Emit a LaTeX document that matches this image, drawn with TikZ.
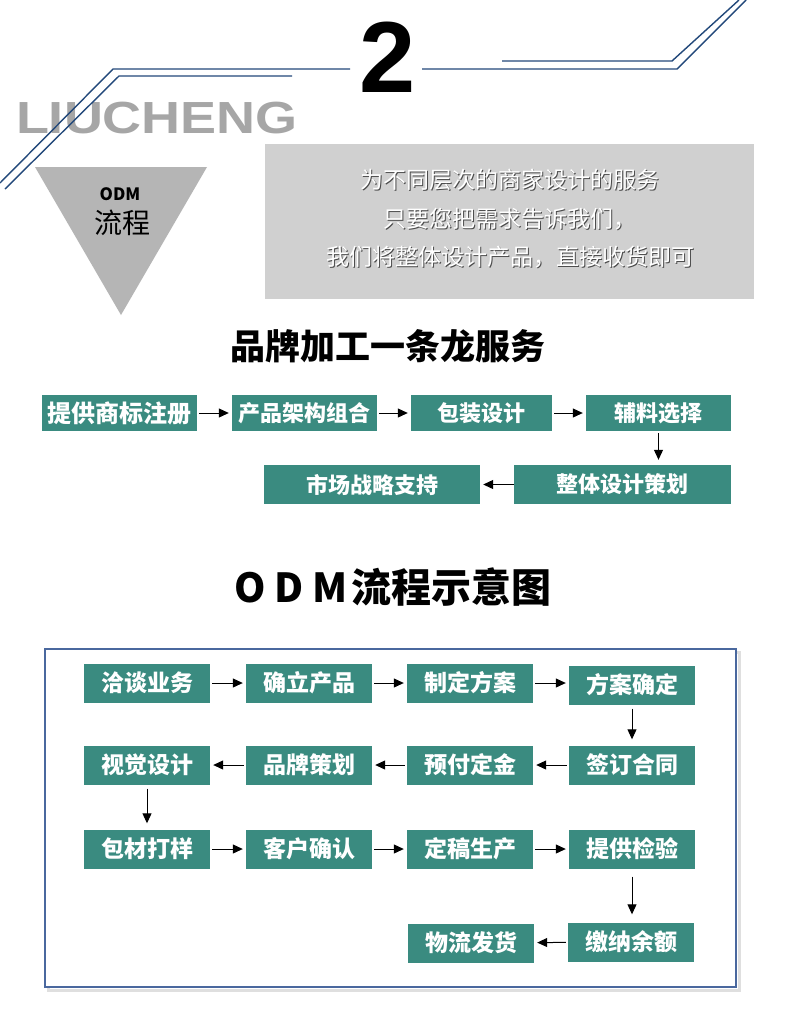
\documentclass[tikz,border=0pt]{standalone}
\usepackage{graphicx}
\usepackage{fontspec}
\setmainfont{Noto Sans CJK SC}
\newfontfamily\latinfont{Liberation Sans}
\usetikzlibrary{arrows.meta}

\definecolor{boxteal}{RGB}{58,139,128}
\definecolor{lineblue}{RGB}{34,72,122}
\definecolor{frameblue}{RGB}{74,104,158}
\definecolor{panelgray}{RGB}{208,208,208}
\definecolor{trigray}{RGB}{181,181,181}
\definecolor{wordgray}{RGB}{166,166,166}

\tikzset{
  stepbox/.style={fill=boxteal, text=white, inner sep=0pt,
    font=\bfseries\fontsize{22}{26}\selectfont,
    minimum height=36, minimum width=145},
  flowbox/.style={stepbox, font=\bfseries\fontsize{23}{27}\selectfont,
    minimum height=39, minimum width=126},
  arr/.style={-{Triangle[length=10pt,width=9pt]}, line width=1pt,
    shorten <=2pt, shorten >=3pt},
  deco/.style={lineblue, line width=1.4pt}
}

\begin{document}
\begin{tikzpicture}[x=1pt,y=-1pt]
  \useasboundingbox[fill=white] (0,0) rectangle (790,1026);

  % header word and big number
  \node[text=wordgray] (word) at (157,118)
    {\scalebox{1.2}[1]{\latinfont\bfseries\fontsize{45}{45}\selectfont LIUCHENG}};
  \node (num) at (388,57) {\latinfont\bfseries\fontsize{101}{101}\selectfont 2};

  % corner lines
  \draw[deco] (0,183) -- (113,69) -- (350,69);
  \draw[deco] (5,189) -- (119,76) -- (292,76);
  \draw[deco] (422,69) -- (677,69) -- (746,0);
  \draw[deco] (502,61) -- (672,61) -- (739,0);

  % triangle badge
  \fill[trigray] (35,167) -- (207,167) -- (121,315) -- cycle;
  \node (odm) at (120,194) {\bfseries\fontsize{17}{17}\selectfont ODM};
  \node (lc) at (122,223) {\fontsize{28}{28}\selectfont 流程};

  % grey panel
  \fill[panelgray] (265,144) rectangle (754,299);
  \node[text=black!70, align=center, font=\fontsize{23}{38.5}\selectfont] (introshadow) at (511,219.5)
    {为不同层次的商家设计的服务\\只要您把需求告诉我们，\\我们将整体设计产品，直接收货即可};
  \node[text=white, align=center, font=\fontsize{23}{38.5}\selectfont] (intro) at (510,218.5)
    {为不同层次的商家设计的服务\\只要您把需求告诉我们，\\我们将整体设计产品，直接收货即可};

  % section 1
  \node (title1) at (388,346) {\bfseries\fontsize{35}{35}\selectfont 品牌加工一条龙服务};
  \node[stepbox, minimum width=155, font=\bfseries\fontsize{24}{26}\selectfont] (s1) at (119.5,413) {提供商标注册};
  \node[stepbox] (s2) at (304.5,413) {产品架构组合};
  \node[stepbox, minimum width=141] (s3) at (481.5,413) {包装设计};
  \node[stepbox] (s4) at (658.5,413) {辅料选择};
  \node[stepbox, minimum width=217, minimum height=39] (s5) at (622.5,484.5) {整体设计策划};
  \node[stepbox, minimum width=216, minimum height=39] (s6) at (372,484.5) {市场战略支持};

  \draw[arr] (s1) -- (s2);
  \draw[arr] (s2) -- (s3);
  \draw[arr] (s3) -- (s4);
  \draw[arr, shorten >=5pt] (s4.south) -- (s4.south |- s5.north);
  \draw[arr, shorten <=0pt] (s5) -- (s6);

  % section 2
  \node (title2) at (393,587) {\bfseries\fontsize{40}{40}\selectfont O\kern9pt D\kern9pt M\kern4pt 流程示意图};
  \draw[gray!25, line width=3pt] (48,652) rectangle (739,990);
  \draw[frameblue, fill=white, line width=1.6pt] (45,649) rectangle (736,987);

  \node[flowbox] (a1) at (147,683) {洽谈业务};
  \node[flowbox] (a2) at (309,683) {确立产品};
  \node[flowbox] (a3) at (470,683) {制定方案};
  \node[flowbox] (a4) at (632,685) {方案确定};
  \node[flowbox] (b1) at (147,765) {视觉设计};
  \node[flowbox] (b2) at (309,765) {品牌策划};
  \node[flowbox] (b3) at (470,765) {预付定金};
  \node[flowbox] (b4) at (632,765) {签订合同};
  \node[flowbox] (c1) at (147,849) {包材打样};
  \node[flowbox] (c2) at (309,849) {客户确认};
  \node[flowbox] (c3) at (470,849) {定稿生产};
  \node[flowbox] (c4) at (632,849) {提供检验};
  \node[flowbox] (d3) at (471,943) {物流发货};
  \node[flowbox] (d4) at (631,942) {缴纳余额};

  \draw[arr] (a1) -- (a2);
  \draw[arr] (a2) -- (a3);
  \draw[arr] (a3.east) -- (a3.east -| a4.west);
  \draw[arr, shorten <=4pt, shorten >=6pt] (a4) -- (b4);
  \draw[arr] (b4) -- (b3);
  \draw[arr] (b3) -- (b2);
  \draw[arr] (b2) -- (b1);
  \draw[arr, shorten <=4pt, shorten >=6pt] (b1) -- (c1);
  \draw[arr] (c1) -- (c2);
  \draw[arr] (c2) -- (c3);
  \draw[arr] (c3) -- (c4);
  \draw[arr, shorten <=8pt, shorten >=8pt] (c4.south) -- (c4.south |- d4.north);
  \draw[arr] (d4) -- (d3);
\end{tikzpicture}
\end{document}
